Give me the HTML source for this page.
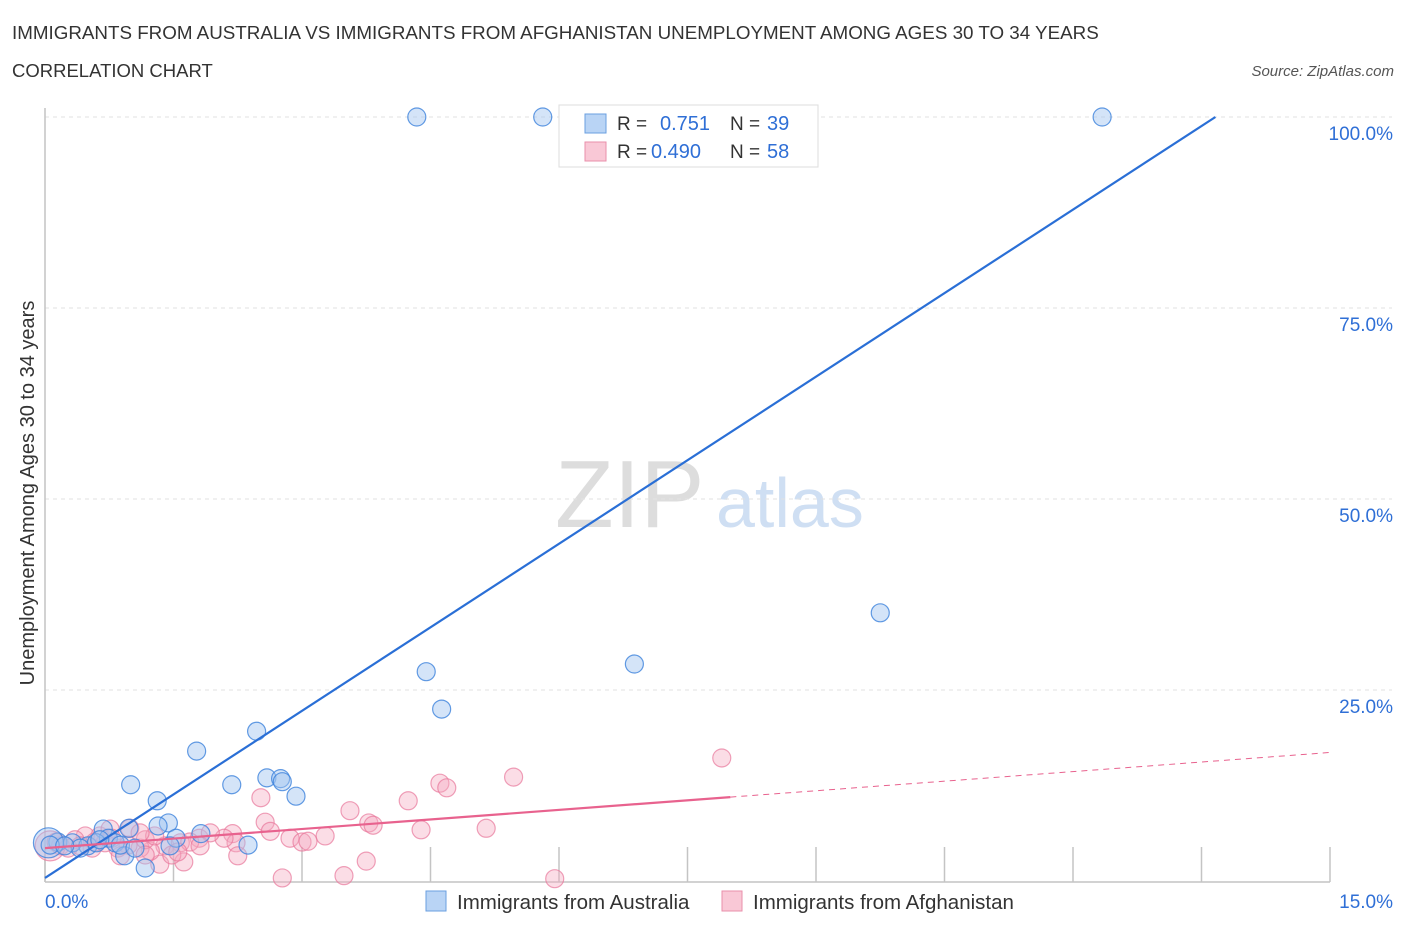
<!DOCTYPE html>
<html><head><meta charset="utf-8"><style>
body{margin:0;background:#fff;font-family:"Liberation Sans",sans-serif}
svg text{font-family:"Liberation Sans",sans-serif}
</style></head><body>
<svg id="c" width="1406" height="930" viewBox="0 0 1406 930" xmlns="http://www.w3.org/2000/svg">
<text x="12" y="39" font-size="18.8" fill="#333">IMMIGRANTS FROM AUSTRALIA VS IMMIGRANTS FROM AFGHANISTAN UNEMPLOYMENT AMONG AGES 30 TO 34 YEARS</text>
<text x="12" y="77" font-size="18.5" fill="#333">CORRELATION CHART</text>
<text x="1394" y="76" font-size="15" fill="#555" font-style="italic" text-anchor="end">Source: ZipAtlas.com</text>
<g>
<text x="555" y="527" font-size="96" fill="#ddd" font-family="Liberation Serif">ZIP</text>
<text x="716" y="527" font-size="70" fill="#cfdff3">atlas</text>
</g>
<g id="grid"></g><g id="axes"></g><g id="pts"></g><g id="lines"></g>
<g>
<rect x="559" y="105" width="259" height="62" fill="#fff" stroke="#ddd"/>
<rect x="585" y="114" width="21" height="19" fill="#b9d4f5" stroke="#6a9fe0"/>
<rect x="585" y="142" width="21" height="19" fill="#f9c8d6" stroke="#e98fab"/>
<text x="617" y="130" font-size="19" fill="#333">R = </text><text x="660" y="130" font-size="20" fill="#2f6fd6">0.751</text>
<text x="730" y="130" font-size="19" fill="#333">N = </text><text x="767" y="130" font-size="20" fill="#2f6fd6">39</text>
<text x="617" y="158" font-size="19" fill="#333">R = </text><text x="651" y="158" font-size="20" fill="#2f6fd6">0.490</text>
<text x="730" y="158" font-size="19" fill="#333">N = </text><text x="767" y="158" font-size="20" fill="#2f6fd6">58</text>
</g>
<g>
<rect x="426" y="891" width="20" height="20" fill="#b9d4f5" stroke="#6a9fe0"/>
<text x="457" y="909" font-size="20.5" fill="#333">Immigrants from Australia</text>
<rect x="722" y="891" width="20" height="20" fill="#f9c8d6" stroke="#e98fab"/>
<text x="753" y="909" font-size="20.5" fill="#333">Immigrants from Afghanistan</text>
</g>
<text x="45" y="908" font-size="19" fill="#2f6fd6">0.0%</text>
<text x="1393" y="908" font-size="19" fill="#2f6fd6" text-anchor="end">15.0%</text>
<text transform="translate(34,493) rotate(-90)" font-size="20" fill="#333" text-anchor="middle">Unemployment Among Ages 30 to 34 years</text>
</svg>
<script>
const yTicks=[25,50,75,100];
const yTickLabels=["25.0%","50.0%","75.0%","100.0%"];
const xTicks=[0,1.5,3,4.5,6,7.5,9,10.5,12,13.5,15];
const ausX=[4.34,5.81,12.34,9.75,6.88,4.45,4.63,2.47,1.77,1.00,2.18,2.59,2.75,2.77,2.93,1.31,1.44,1.32,0.98,0.68,1.53,1.82,2.37,0.74,0.82,0.93,1.17,0.15,0.04,0.06,0.32,0.50,0.41,0.60,0.23,0.64,0.88,1.05,1.46];
const ausY=[100,100,100,35.1,28.4,27.4,22.5,19.6,17.0,12.6,12.6,13.5,13.4,13.0,11.1,10.5,7.6,7.2,6.9,6.8,5.6,6.2,4.7,5.6,5.0,3.3,1.7,5.1,5.0,4.7,5.0,4.6,4.3,5.0,4.6,5.4,4.7,4.3,4.6];
const afgX=[7.90,5.47,4.61,4.69,4.24,3.56,2.52,2.57,2.63,3.78,3.83,3.27,4.39,5.15,2.86,3.00,3.07,2.19,2.23,2.09,1.80,1.40,1.58,1.69,1.93,2.25,1.62,1.34,1.48,1.55,1.23,1.11,0.97,0.85,0.64,0.99,0.76,0.47,0.35,0.18,0.06,0.55,0.70,1.17,1.28,1.81,0.88,1.17,2.77,3.49,3.75,5.95,1.11,0.58,0.27,0.41,0.13,0.78];
const afgY=[16.1,13.6,12.8,12.2,10.5,9.2,10.9,7.7,6.5,7.6,7.3,5.9,6.7,6.9,5.6,5.1,5.2,6.2,5.0,5.6,5.6,4.6,5.0,5.1,6.3,3.3,2.5,2.2,3.4,3.8,3.9,4.3,4.7,4.3,5.9,6.9,6.8,5.9,5.4,4.6,4.6,4.3,5.0,5.4,5.9,4.6,3.3,3.4,0.4,0.7,2.6,0.3,6.3,5.1,4.3,4.6,5.1,5.6];
const ausTrend=[0.4,7.29]; // intercept, slope
const afgTrend=[4.3,0.835];
const afgSolidEnd=8.0;
const NS="http://www.w3.org/2000/svg";
const sx=v=>45+v/15*1285, sy=v=>881-v/100*764;
function mk(t,a,p){const e=document.createElementNS(NS,t);for(const k in a)e.setAttribute(k,a[k]);document.getElementById(p).appendChild(e);return e;}
yTicks.forEach((t,i)=>{
 const l=mk('line',{x1:45,x2:1392,y1:sy(t),y2:sy(t),stroke:'#e2e2e2','stroke-dasharray':'4,4'},'grid');
 
 
 const tx=mk('text',{x:1393,y:sy(t)+23,'font-size':19,fill:'#2f6fd6','text-anchor':'end'},'grid');
 tx.textContent=yTickLabels[i];
 
 
});
const ax=mk('line',{x1:45,x2:45,y1:108,y2:882,stroke:'#c4c4c4','stroke-width':1.5},'axes');


const bx=mk('line',{x1:45,x2:1330,y1:882,y2:882,stroke:'#c4c4c4','stroke-width':1.5},'axes');


xTicks.forEach(t=>{
 const l=mk('line',{x1:sx(t),x2:sx(t),y1:847,y2:882,stroke:'#c4c4c4','stroke-width':1.5},'axes');
 
 
});
function pts(X,Y,f,s,name,big){X.forEach((x,i)=>{
 const c=mk('circle',{cx:sx(x),cy:sy(Y[i]),r:(i===big?15:9),fill:f,stroke:s,'stroke-width':1.2},'pts');
 
 
});}
pts(afgX,afgY,'rgba(246,170,192,0.4)','rgba(232,120,155,0.7)','afghanistan-point',40);
pts(ausX,ausY,'rgba(160,196,240,0.45)','rgba(60,130,220,0.8)','australia-point',28);
const bl=mk('line',{x1:sx(0),y1:sy(ausTrend[0]),x2:sx((100-ausTrend[0])/ausTrend[1]),y2:sy(100),stroke:'#2a6fd6','stroke-width':2.2},'lines');


const pl=mk('line',{x1:sx(0),y1:sy(afgTrend[0]),x2:sx(afgSolidEnd),y2:sy(afgTrend[0]+afgTrend[1]*afgSolidEnd),stroke:'#e8628e','stroke-width':2.2},'lines');


const pd=mk('line',{x1:sx(afgSolidEnd),y1:sy(afgTrend[0]+afgTrend[1]*afgSolidEnd),x2:sx(15),y2:sy(afgTrend[0]+afgTrend[1]*15),stroke:'#e8628e','stroke-width':1,'stroke-dasharray':'6,5'},'lines');


</script>
</body></html>
